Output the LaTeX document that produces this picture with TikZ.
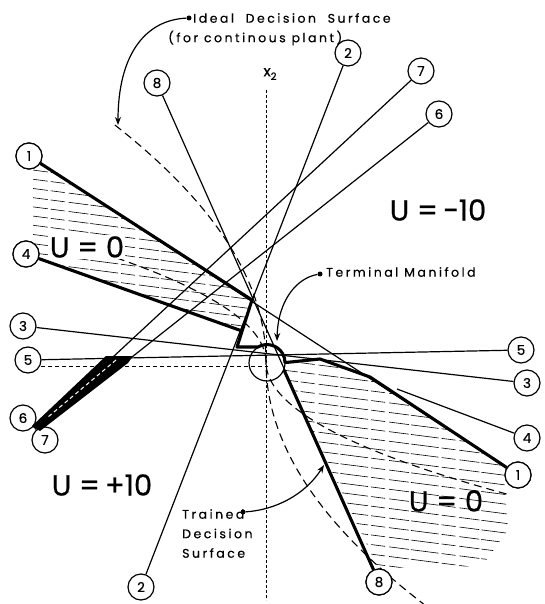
\documentclass[tikz,border=0pt]{standalone}
\usepackage{fontspec}
\setmainfont{Poppins}[FakeBold=0.6]
\newfontfamily\notefont{Poppins}[LetterSpace=20,FakeBold=0.4]
\usetikzlibrary{arrows.meta}
\begin{document}
\begin{tikzpicture}[x=1pt,y=-1pt,
  thinl/.style={line width=1.2pt},
  thickl/.style={line width=3.1pt,line join=round},
  num/.style={circle,draw,line width=1.2pt,minimum size=26pt,inner sep=0pt,fill=white,font=\fontsize{13.5}{13.5}\selectfont},
  curvedash/.style={line width=1.1pt,dash pattern=on 8pt off 5pt},
  axisdash/.style={line width=0.9pt,dash pattern=on 3pt off 2pt},
  hatchl/.style={line width=0.6pt,dash pattern=on 28pt off 3pt on 14pt off 4pt on 20pt off 2pt},
  regionlbl/.style={font=\fontsize{29}{29}\selectfont,inner sep=1pt},
  note/.style={font=\notefont\fontsize{12.5}{19.5}\selectfont,inner sep=0pt,align=left},
  pointer/.style={line width=1.2pt,-{Stealth[length=8pt,width=6pt]}},
  dotmark/.style={circle,fill,inner sep=0pt,minimum size=5pt}
]
\useasboundingbox (0,0) rectangle (544,604);

% hatching, upper-left U=0 region
\begin{scope}
  \clip (33,168) -- (47,166) -- (252,300) -- (242,331) -- (33,257) -- cycle;
  \foreach \k in {0,...,16} {
    \draw[hatchl] (20,{150+9.2*\k}) -- (260,{150+9.2*\k+31});
  }
\end{scope}
% hatching, lower-right U=0 region
\begin{scope}
  \clip (285,362) -- (320,359) -- (370,377) -- (503,465) -- (508,530) -- (482,566) -- (378,568) -- (284,371) -- cycle;
  \foreach \k in {0,...,24} {
    \draw[hatchl] (270,{330+9.6*\k}) -- (520,{330+9.6*\k+32});
  }
\end{scope}

% axes
\draw[axisdash] (266,90) -- (266,600);
\node[font=\fontsize{15}{15}\selectfont] (x2) at (270,74) {x\raisebox{-3.5pt}{\fontsize{10}{10}\selectfont 2}};

% circled numbers
\node[num] (c1a) at (29,156) {1};
\node[num] (c1b) at (518,475) {1};
\node[num] (c2a) at (348,53) {2};
\node[num] (c2b) at (141,587) {2};
\node[num] (c3a) at (23,326) {3};
\node[num] (c3b) at (527,383) {3};
\node[num] (c4a) at (26,254) {4};
\node[num] (c4b) at (527,438) {4};
\node[num] (c5a) at (28,360) {5};
\node[num] (c5b) at (521,350) {5};
\node[num] (c6a) at (23,418) {6};
\node[num] (c6b) at (439,114) {6};
\node[num] (c7a) at (45,440) {7};
\node[num] (c7b) at (421,71) {7};
\node[num] (c8a) at (157,83) {8};
\node[num] (c8b) at (379,582) {8};

% terminal manifold circle
\node[circle,draw,line width=1.2pt,minimum size=36pt,inner sep=0pt] (term) at (267,363) {};

% key points
\coordinate (p1) at (252,300);
\coordinate (p2) at (237,347);
\coordinate (p3) at (258,347);
\coordinate (p4) at (320,359);
\coordinate (p5) at (370,377);
\coordinate (q1) at (284,370);
\coordinate (m4) at (242,331);
\coordinate (n4) at (397,389);
\coordinate (b7) at (113,357);
\coordinate (b6) at (132,357);
\coordinate (tip) at (35,428);
\coordinate (d0) at (41,366);
\coordinate (d1) at (268,366);

% dashed decision curves
\draw[curvedash] plot[domain=-237:242,samples=80] ({266+26.9*(\x/100)*abs(\x/100)},{362+\x});
\draw[curvedash] plot[domain=-104:132,samples=60] ({266+138*(\x/100)*abs(\x/100)},{362+\x});
\draw[axisdash,line width=1pt,dash pattern=on 4pt off 3pt] (d0) -- (d1);

% thin trajectories
\draw[thinl] (c1a) -- (c1b);
\draw[thinl] (c2a) -- (c2b);
\draw[thinl] (c3a) -- (c3b);
\draw[thinl] (c5a) -- (c5b);
\draw[thinl] (c8a) -- (c8b);
\draw[thinl] (n4) -- (c4b);
\draw[thinl] (c6b) -- (b6);
\draw[thinl] (c7b) -- (b7);
\draw[thinl] (tip) -- (c6a);
\draw[thinl] (tip) -- (c7a);

% hatched band of trajectories 6 and 7
\fill (106,356) -- (133,356) -- (128,363) -- (40,431) -- (32,426) -- cycle;
\draw[white,line width=1pt,dash pattern=on 4pt off 3pt] (116,360) -- (48,417);

% thick trained decision surface
\draw[thickl] (c1a) -- (p1) -- (p2) -- (p3) arc[start angle=-120,end angle=0,radius=18] -- (p4) -- (p5) -- (c1b);
\draw[thickl] (c4a) -- (m4);
\draw[thickl] (q1) -- (c8b);

% redraw circled numbers on top
\node[num] at (c1a) {1};
\node[num] at (c1b) {1};
\node[num] at (c4a) {4};
\node[num] at (c8b) {8};

% region labels
\node[regionlbl,fill=white] (u0a) at (87,247) {U = 0};
\node[regionlbl] (um10) at (438,210) {U =\,−10};
\node[regionlbl] (up10) at (102,485) {U =\,+10};
\node[regionlbl] (u0b) at (446,501) {U = 0};

% annotations
\node[dotmark] (dIdeal) at (189,18) {};
\node[note,anchor=west] (tIdeal) at (193,18) {Ideal\ \ Decision\ \ Surface};
\node[note,anchor=west] (tIdeal2) at (168,38) {(for\ continous\ plant)};
\coordinate (aIdeal) at (118,125);
\draw[pointer] (dIdeal) .. controls (145,20) and (118,55) .. (aIdeal);

\node[dotmark] (dTerm) at (320,274) {};
\node[note,anchor=west] (tTerm) at (326,272) {Terminal Manifold};
\coordinate (aTerm) at (277,341);
\draw[pointer] (dTerm) .. controls (297,278) and (278,300) .. (aTerm);

\node[dotmark] (dTrain) at (243,512) {};
\node[note,anchor=north west] (tTrain) at (182,509) {Trained\\Decision\\Surface};
\coordinate (aTrain) at (324,465);
\draw[pointer] (dTrain) .. controls (275,510) and (305,495) .. (aTrain);
\end{tikzpicture}
\end{document}
